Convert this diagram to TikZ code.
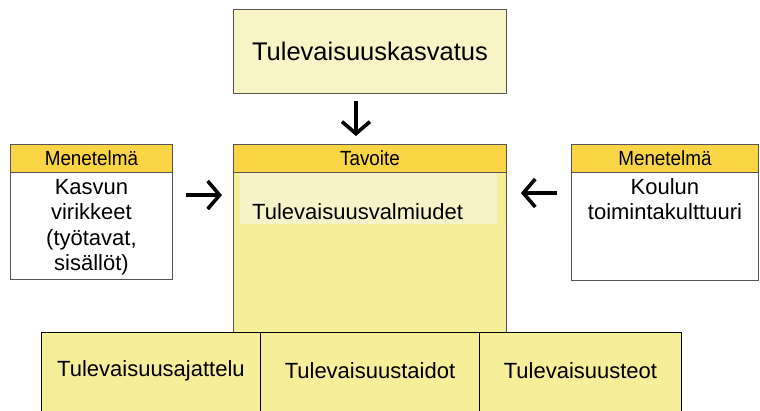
\documentclass[tikz,border=0pt]{standalone}
\usepackage{fontspec}
\setmainfont{Liberation Sans}
\usetikzlibrary{arrows.meta,calc}
\definecolor{paleY}{HTML}{F8F4C6}
\definecolor{goldH}{HTML}{F9D445}
\definecolor{bodyY}{HTML}{F6EE98}
\definecolor{innerY}{HTML}{F7F3C8}
\definecolor{edgeG}{HTML}{555555}
\newcommand{\hdrtext}[1]{\scalebox{0.92}[1]{#1}}
\tikzset{
  box/.style={draw=edgeG, line width=0.9pt, rectangle, inner sep=0pt, anchor=north west},
  hdr/.style={box, fill=goldH},
  htxt/.style={inner sep=0pt, font=\fontsize{20.5}{22}\selectfont},
  txt/.style={font=\fontsize{22}{25.5}\selectfont, align=center, inner sep=0pt},
  arr/.style={line width=3.6pt, -{Straight Barb[length=12pt,width=28pt,line width=3.6pt]}},
}
\begin{document}
\begin{tikzpicture}[x=1pt,y=-1pt]
\useasboundingbox (0,0) rectangle (760,410);
% top box
\node[box, fill=paleY, minimum width=273pt, minimum height=84pt] (top) at (233,9) {};
\node[txt, font=\fontsize{25.5}{28}\selectfont] (toptxt) at (top.center) {Tulevaisuuskasvatus};
% center
\node[box, fill=bodyY, minimum width=273pt, minimum height=160pt] (cbody) at (233,172) {};
\node[rectangle, fill=innerY, inner sep=0pt, anchor=north west, minimum width=257pt, minimum height=52pt] (inner) at (240,172) {};
\node[txt, anchor=west] (valm) at (252,212) {Tulevaisuusvalmiudet};
\node[hdr, minimum width=273pt, minimum height=28pt] (tav) at (233,144) {};
\node[htxt] (tavtxt) at (tav.center) {\hdrtext{Tavoite}};
% left
\node[box, fill=white, minimum width=162pt, minimum height=107pt] (lbody) at (10,172) {};
\node[hdr, minimum width=162pt, minimum height=28pt] (lhdr) at (10,144) {};
\node[htxt] (lhtxt) at (lhdr.center) {\hdrtext{Menetelmä}};
\node[txt, anchor=north] (ltxt) at ($(lbody.north)+(0,7)$) {Kasvun\\virikkeet\\(työtavat,\\sisällöt)};
% right
\node[box, fill=white, minimum width=187pt, minimum height=108pt] (rbody) at (571,172) {};
\node[hdr, minimum width=187pt, minimum height=28pt] (rhdr) at (571,144) {};
\node[htxt] (rhtxt) at (rhdr.center) {\hdrtext{Menetelmä}};
\node[txt, anchor=north] (rtxt) at ($(rbody.north)+(0,6)$) {Koulun\\toimintakulttuuri};
% bottom row
\node[box, draw=black, fill=bodyY, minimum width=219pt, minimum height=82pt] (b1) at (41,332) {};
\node[box, draw=black, fill=bodyY, minimum width=219pt, minimum height=82pt] (b2) at (260,332) {};
\node[box, draw=black, fill=bodyY, minimum width=202pt, minimum height=82pt] (b3) at (479,332) {};
\node[txt] (b1t) at ($(b1.center)+(0,-3)$) {Tulevaisuusajattelu};
\node[txt] (b2t) at ($(b2.center)+(0,-3)$) {Tulevaisuustaidot};
\node[txt] (b3t) at ($(b3.center)+(0,-3)$) {Tulevaisuusteot};
% arrows
\draw[arr] ($(top.south)+(-14,7)$) -- ($(tav.north)+(-14,-8)$);
\draw[arr] ($(lbody.north east)+(13,23)$) -- ($(cbody.north west)+(-11,23)$);
\draw[arr] ($(rbody.north west)+(-14,21)$) -- ($(cbody.north east)+(14,21)$);
\end{tikzpicture}
\end{document}
